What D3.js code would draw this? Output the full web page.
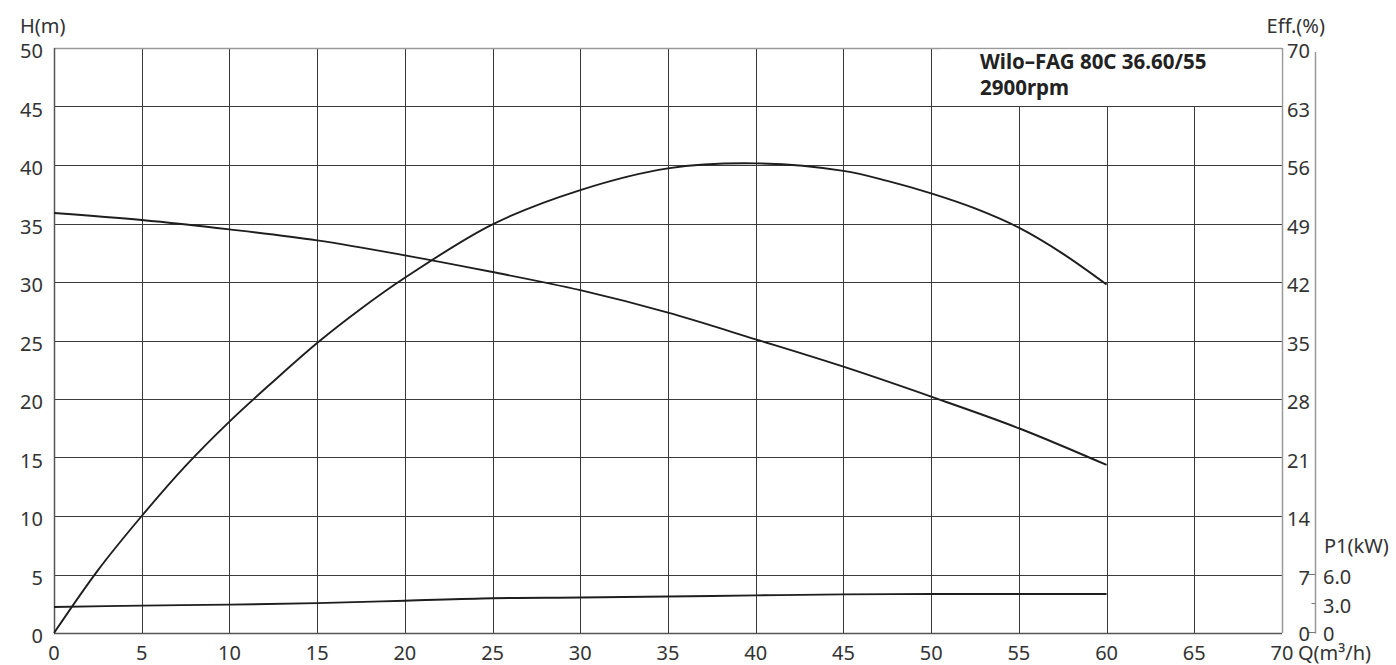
<!DOCTYPE html>
<html>
<head>
<meta charset="utf-8">
<script src="https://cdn.jsdelivr.net/npm/d3@7"></script>
<style>
  html, body { margin: 0; padding: 0; background: #fff; }
  svg { display: block; }
  text { font-family: "Noto Sans", "DejaVu Sans", sans-serif; fill: #333; }
</style>
</head>
<body>
<svg id="chart" width="1396" height="665"></svg>
<script>
// ---- data ----
const qTicks = [0, 5, 10, 15, 20, 25, 30, 35, 40, 45, 50, 55, 60, 65, 70];
const hTicks = [0, 5, 10, 15, 20, 25, 30, 35, 40, 45, 50];
const effTicks = [0, 7, 14, 21, 28, 35, 42, 49, 56, 63, 70];
const p1Ticks = [0, 3, 6];
const p1TickLabels = ["0", "3.0", "6.0"];

const headQ = [0, 5, 10, 15, 20, 25, 30, 35, 40, 45, 50, 55, 60];
const headH = [35.9, 35.3, 34.5, 33.56, 32.28, 30.85, 29.3, 27.38, 25.1, 22.76, 20.2, 17.5, 14.36];

const effQ = [0, 2.5, 5, 7.5, 10, 12.5, 15, 17.5, 20, 25, 30, 35, 40, 45, 47.5, 50, 52.5, 55, 57.5, 60];
const effV = [0, 7.5, 14.0, 20.0, 25.3, 30.1, 34.7, 38.8, 42.5, 48.9, 53.0, 55.6, 56.2, 55.3, 54.1, 52.6, 50.8, 48.5, 45.4, 41.7];

const powQ = [0, 5, 10, 15, 20, 25, 30, 35, 40, 45, 50, 55, 60];
const powP = [2.67, 2.81, 2.91, 3.06, 3.31, 3.57, 3.64, 3.74, 3.86, 3.96, 4.0, 4.0, 4.0];

const titleLines = ["Wilo–FAG 80C 36.60/55", "2900rpm"];

// ---- scales ----
const svg = d3.select("#chart");
const x = d3.scaleLinear().domain([0, 70]).range([54, 1282]);
const yH = d3.scaleLinear().domain([0, 50]).range([633, 48]);
const yE = d3.scaleLinear().domain([0, 70]).range([633, 48]);
const yP = d3.scaleLinear().domain([0, 60]).range([633, 48]);

const gridColor = "#3a3a3a";
const frameColor = "#999";

// vertical grid lines (55,60,65 start below title box)
const g = svg.append("g");
g.selectAll("line.vg").data(qTicks.filter(d => d > 0 && d < 70)).enter()
  .append("line")
  .attr("x1", d => Math.round(x(d)) + 0.5).attr("x2", d => Math.round(x(d)) + 0.5)
  .attr("y1", d => d >= 55 ? Math.round(yH(45)) + 0.5 : yH(50))
  .attr("y2", yH(0))
  .attr("stroke", gridColor).attr("stroke-width", 1);
// horizontal grid lines
g.selectAll("line.hg").data(hTicks.filter(d => d > 0 && d < 50)).enter()
  .append("line")
  .attr("x1", x(0)).attr("x2", x(70))
  .attr("y1", d => Math.round(yH(d)) + 0.5).attr("y2", d => Math.round(yH(d)) + 0.5)
  .attr("stroke", gridColor).attr("stroke-width", 1);

// frame
g.append("line").attr("x1", x(0)).attr("x2", x(70)).attr("y1", yH(50) + 0.5).attr("y2", yH(50) + 0.5)
  .attr("stroke", frameColor).attr("stroke-width", 1.5);
g.append("line").attr("x1", x(0)).attr("x2", x(70)).attr("y1", yH(0) + 0.5).attr("y2", yH(0) + 0.5)
  .attr("stroke", "#555").attr("stroke-width", 1.5);
g.append("line").attr("x1", x(0) + 0.5).attr("x2", x(0) + 0.5).attr("y1", yH(50)).attr("y2", yH(0))
  .attr("stroke", "#555").attr("stroke-width", 1.5);
g.append("line").attr("x1", x(70) + 0.5).attr("x2", x(70) + 0.5).attr("y1", yH(50)).attr("y2", yH(0))
  .attr("stroke", frameColor).attr("stroke-width", 1.5);

// P1 axis line
const pAxisX = 1315.5;
g.append("line").attr("x1", pAxisX).attr("x2", pAxisX).attr("y1", 52).attr("y2", yP(0) + 0.5)
  .attr("stroke", frameColor).attr("stroke-width", 1.5);
g.selectAll("line.pt").data(p1Ticks).enter().append("line")
  .attr("x1", (d, i) => pAxisX - (i === 1 ? 4 : 8)).attr("x2", pAxisX)
  .attr("y1", d => Math.round(yP(d)) - 0.5).attr("y2", d => Math.round(yP(d)) - 0.5)
  .attr("stroke", "#777").attr("stroke-width", 1);

// curves
const line = d3.line().curve(d3.curveCatmullRom.alpha(0.5));
const curveStyle = sel => sel.attr("fill", "none").attr("stroke", "#1e1e1e").attr("stroke-width", 1.9);
svg.append("path").attr("d", line(headQ.map((q, i) => [x(q), yH(headH[i])]))).call(curveStyle);
svg.append("path").attr("d", line(effQ.map((q, i) => [x(q), yE(effV[i])]))).call(curveStyle);
svg.append("path").attr("d", line(powQ.map((q, i) => [x(q), yP(powP[i])]))).call(curveStyle);

// title box
svg.append("rect").attr("x", 940).attr("y", yH(50) + 1.5).attr("width", x(70) - 940 - 0.5)
  .attr("height", Math.round(yH(45)) - yH(50) - 2).attr("fill", "#fff");
svg.selectAll("text.title").data(titleLines).enter().append("text")
  .attr("x", 980).attr("y", (d, i) => 69 + i * 26)
  .attr("font-size", 20.5).attr("font-weight", "bold")
  .style("fill", "#222")
  .text(d => d);

// tick labels
const fs = 20;
svg.selectAll("text.hl").data(hTicks).enter().append("text")
  .attr("x", 43).attr("y", d => yH(d) + 10)
  .attr("text-anchor", "end").attr("font-size", fs).text(d => d);
svg.selectAll("text.xl").data(qTicks).enter().append("text")
  .attr("x", d => x(d)).attr("y", 659.5)
  .attr("text-anchor", "middle").attr("font-size", fs).text(d => d);
svg.selectAll("text.el").data(effTicks).enter().append("text")
  .attr("x", 1310).attr("y", d => yE(d) + (d === 0 ? 8 : 10))
  .attr("text-anchor", "end").attr("font-size", fs).text(d => d);
svg.selectAll("text.pl").data(p1Ticks).enter().append("text")
  .attr("x", 1323).attr("y", d => yP(d) + (d === 0 ? 8 : 9))
  .attr("text-anchor", "start").attr("font-size", fs).text((d, i) => p1TickLabels[i]);

// axis titles
svg.append("text").attr("x", 20).attr("y", 33).attr("font-size", fs).text("H(m)");
svg.append("text").attr("x", 1325).attr("y", 33).attr("text-anchor", "end").attr("font-size", fs).text("Eff.(%)");
svg.append("text").attr("x", 1324).attr("y", 553).attr("font-size", fs).text("P1(kW)");
svg.append("text").attr("x", 1298).attr("y", 659.5).attr("font-size", fs).text("Q(m³/h)");
</script>
</body>
</html>
